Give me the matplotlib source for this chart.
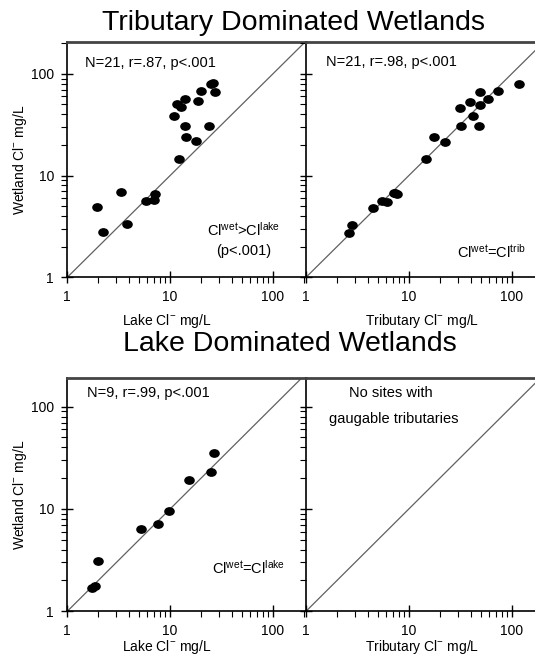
import numpy as np
import matplotlib
matplotlib.use("Agg")
import matplotlib.pyplot as plt
from matplotlib.markers import MarkerStyle
from matplotlib.transforms import Affine2D

plt.rcParams['font.family'] = ['Liberation Sans', 'DejaVu Sans']
plt.rcParams['mathtext.fontset'] = 'custom'
plt.rcParams['mathtext.rm'] = 'Liberation Sans'
plt.rcParams['mathtext.it'] = 'Liberation Sans'

# tributary dominated wetlands: lake vs wetland
trib_lake_x = [1.94, 2.2, 3.32, 3.81, 5.82, 6.9, 7.2, 12.2, 10.96, 11.8, 12.9,
               13.9, 14.0, 14.3, 17.7, 18.8, 19.8, 23.9, 24.9, 27.3, 26.0]
trib_lake_y = [4.93, 2.8, 6.86, 3.31, 5.65, 5.7, 6.66, 14.6, 38.7, 50.5, 46.7,
               56.0, 31.0, 23.9, 21.7, 53.5, 68.6, 31.0, 79.3, 67.0, 81.0]

# tributary dominated wetlands: tributary vs wetland
trib_trib_x = [2.6, 2.8, 4.5, 5.52, 6.09, 7.18, 7.74, 14.6, 17.7, 22.4, 31.6,
               32.4, 39.4, 41.8, 48.2, 49.3, 49.3, 59.1, 72.9, 117.0, 7.4]
trib_trib_y = [2.71, 3.27, 4.83, 5.63, 5.54, 6.7, 6.6, 14.5, 23.8, 21.4, 46.5,
               30.7, 53.3, 38.5, 30.7, 66.8, 49.5, 56.3, 68.4, 79.0, 6.8]

# lake dominated wetlands: lake vs wetland
lake_lake_x = [1.73, 1.86, 2.0, 5.25, 7.69, 9.78, 15.2, 25.2, 26.8]
lake_lake_y = [1.68, 1.78, 3.1, 6.42, 7.18, 9.5, 19.1, 23.2, 35.0]

ticks = [1, 10, 100]
tick_labels = ['1', '10', '100']

W, H = 535, 658
fig = plt.figure(figsize=(W / 100, H / 100), dpi=100)


def fx(px):
    return px / W


def fy(py):
    return 1 - py / H


ell = MarkerStyle('o', transform=Affine2D().scale(1.25, 1.0))


def setup(ax, ymax, ylabels, xlabel, xlab_pos, xlab_y):
    ax.set_xscale('log')
    ax.set_yscale('log')
    ax.set_xlim(1, 210)
    ax.set_ylim(1, ymax)
    ax.plot([1, 1000], [1, 1000], color='#606060', lw=0.9, zorder=1)
    ax.set_xticks(ticks)
    ax.set_xticklabels(tick_labels, fontsize=10)
    ax.set_yticks(ticks)
    if ylabels:
        ax.set_yticklabels(tick_labels, fontsize=10)
        ax.set_ylabel('Wetland Cl$^{-}$ mg/L', fontsize=10)
        ax.yaxis.set_label_coords(-(67.3 - 29) / 238.7, 0.5)
    else:
        ax.set_yticklabels([])
    ax.set_xlabel(xlabel, fontsize=10)
    ax.xaxis.set_label_coords(xlab_pos, xlab_y)
    ax.tick_params(which='major', direction='inout', length=9, width=1, pad=5)
    ax.tick_params(which='minor', direction='out', length=4, width=0.8)
    ax.tick_params(top=False, right=False, which='both')
    ax.spines['right'].set_visible(False)
    ax.spines['top'].set_color('#444444')
    ax.spines['top'].set_linewidth(2)
    ax.spines['left'].set_linewidth(1.2)
    ax.spines['bottom'].set_linewidth(1.2)
    ax.patch.set_alpha(0)


ax1 = fig.add_axes([0.1258, 0.5786, 0.4462, 0.358])
ax2 = fig.add_axes([0.572, 0.5786, 0.4462, 0.358])
ax3 = fig.add_axes([0.1258, 0.071, 0.4462, 0.355])
ax4 = fig.add_axes([0.572, 0.071, 0.4462, 0.355])

setup(ax1, 207, True, 'Lake Cl$^{-}$ mg/L', 0.418, -35 / 236)
setup(ax2, 207, False, 'Tributary Cl$^{-}$ mg/L', 0.486, -35 / 236)
setup(ax3, 192, True, 'Lake Cl$^{-}$ mg/L', 0.418, -27 / 234)
setup(ax4, 192, False, 'Tributary Cl$^{-}$ mg/L', 0.486, -27 / 234)

ax1.scatter(trib_lake_x, trib_lake_y, marker=ell, s=28, color='black', zorder=3)
ax2.scatter(trib_trib_x, trib_trib_y, marker=ell, s=28, color='black', zorder=3)
ax3.scatter(lake_lake_x, lake_lake_y, marker=ell, s=28, color='black', zorder=3)

fig.text(fx(294), fy(23), 'Tributary Dominated Wetlands', fontsize=20.5,
         ha='center', va='center')
fig.text(fx(290), fy(344), 'Lake Dominated Wetlands', fontsize=20.5,
         ha='center', va='center')

fig.text(fx(85), fy(63), 'N=21, r=.87, p<.001', fontsize=10.5, va='center')
fig.text(fx(326), fy(62), 'N=21, r=.98, p<.001', fontsize=10.5, va='center')
fig.text(fx(87), fy(393), 'N=9, r=.99, p<.001', fontsize=10.5, va='center')

fig.text(fx(244), fy(230), r'Cl$^{\mathrm{wet}}$>Cl$^{\mathrm{lake}}$',
         fontsize=10.5, ha='center', va='center')
fig.text(fx(244), fy(251), '(p<.001)', fontsize=10.5, ha='center', va='center')
fig.text(fx(491), fy(252), r'Cl$^{\mathrm{wet}}$=Cl$^{\mathrm{trib}}$',
         fontsize=10.5, ha='center', va='center')
fig.text(fx(249), fy(568), r'Cl$^{\mathrm{wet}}$=Cl$^{\mathrm{lake}}$',
         fontsize=10.5, ha='center', va='center')
fig.text(fx(391), fy(393), 'No sites with', fontsize=10.5,
         ha='center', va='center')
fig.text(fx(394), fy(419), 'gaugable tributaries', fontsize=10.5,
         ha='center', va='center')

fig.savefig('out.png', dpi=100)
